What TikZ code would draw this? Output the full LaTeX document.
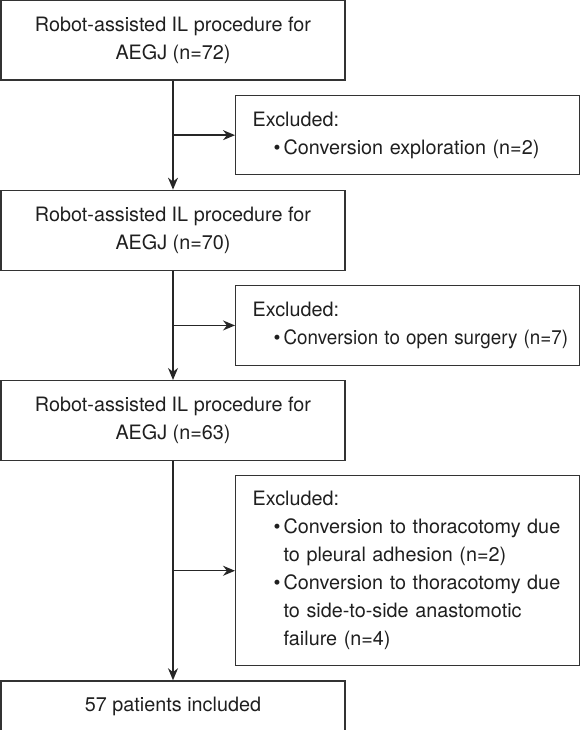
\documentclass[tikz,border=0pt]{standalone}
\usepackage{fontspec}
\setmainfont{TeX Gyre Heros}
\usetikzlibrary{arrows.meta,positioning,calc}

\begin{document}
\begin{tikzpicture}[
    font=\fontsize{19.8pt}{28pt}\selectfont,
    >={Stealth[length=12pt,width=10pt]},
    every node/.style={text=black!88},
    stage/.style={
        rectangle, draw=black!80, line width=1.3pt,
        align=center, inner sep=0pt,
        minimum width=344pt, minimum height=80pt
    },
    exbox/.style={
        rectangle, draw=black!80, line width=1.3pt,
        align=left, inner xsep=17pt, inner ysep=0pt,
        text width=310pt, minimum height=79pt
    },
    arrow/.style={->, draw=black!85, line width=1.3pt},
]
  \useasboundingbox (0,0) rectangle (580pt,-730pt);

  %––– Main stages ––––––––––––––––––––––––––––––––––––––––––
  \node (all) [stage] at (173pt,-40pt) {Robot-assisted IL procedure for\\AEGJ (n=72)};
  \node (afterexp) [stage, below=109pt of all] {Robot-assisted IL procedure for\\AEGJ (n=70)};
  \node (afteropen) [stage, below=109pt of afterexp] {Robot-assisted IL procedure for\\AEGJ (n=63)};
  \node (final) [stage, minimum height=52pt, below=219pt of afteropen] {57 patients included};

  % Branch points midway between stages
  \path (all.south) -- (afterexp.north) coordinate[midway] (br1);
  \path (afterexp.south) -- (afteropen.north) coordinate[midway] (br2);
  \path (afteropen.south) -- (final.north) coordinate[midway] (br3);

  %––– Exclusion boxes ––––––––––––––––––––––––––––––––––––––
  \node (exclA) [exbox, right=62pt of br1] {Excluded:\\
      \hspace*{21pt}\makebox[10pt][l]{\textbullet}Conversion exploration (n=2)};
  \node (exclB) [exbox, minimum height=80pt, right=62pt of br2] {Excluded:\\
      \hspace*{21pt}\makebox[10pt][l]{\textbullet}\scalebox{0.95}[1]{Conversion to open surgery (n=7)}};
  \node (exclC) [exbox, minimum height=190pt, right=62pt of br3] {Excluded:\\
      \hspace*{21pt}\makebox[10pt][l]{\textbullet}Conversion to thoracotomy due\\
      \hspace*{31pt}to pleural adhesion (n=2)\\
      \hspace*{21pt}\makebox[10pt][l]{\textbullet}Conversion to thoracotomy due\\
      \hspace*{31pt}to side-to-side anastomotic\\
      \hspace*{31pt}failure (n=4)};

  %––– Arrows –––––––––––––––––––––––––––––––––––––––––––––––
  \draw[arrow] (all.south) -- (afterexp.north);
  \draw[arrow] (afterexp.south) -- (afteropen.north);
  \draw[arrow] (afteropen.south) -- (final.north);
  \draw[arrow] (br1) -- (exclA.west);
  \draw[arrow] (br2) -- (exclB.west);
  \draw[arrow] (br3) -- (exclC.west);
\end{tikzpicture}
\end{document}
